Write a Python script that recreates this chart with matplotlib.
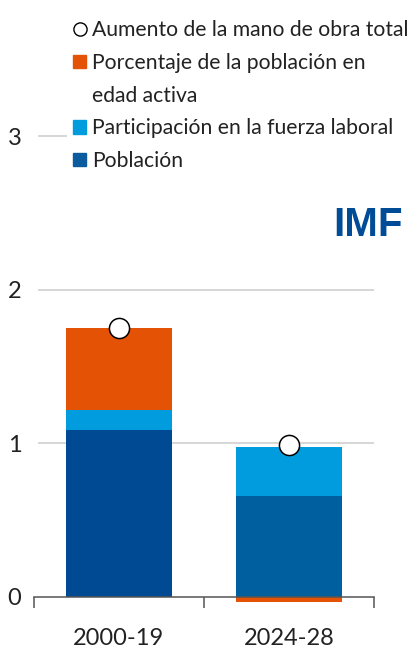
import matplotlib
matplotlib.use("Agg")
import matplotlib.pyplot as plt
from matplotlib.patches import Patch
from matplotlib.lines import Line2D

periods = ["2000-19", "2024-28"]
poblacion = [1.09, 0.66]
participacion = [0.13, 0.32]
porcentaje_edad = [0.53, -0.03]
aumento_total = [1.75, 0.99]

legend_labels = [
    "Aumento de la mano de obra total",
    "Porcentaje de la población en",
    "edad activa",
    "Participación en la fuerza laboral",
    "Población",
]
yticks = [0, 1, 2, 3]

C_POP = ["#004a93", "#005f9e"]
C_LFP = "#009cde"
C_ORANGE = "#e35205"
C_POP_LEG = "#0a5c9e"

TICK_FONT = ["Lato", "DejaVu Sans"]
LEG_FONT = ["Lato", "DejaVu Sans"]

fig = plt.figure(figsize=(4.12, 6.49), dpi=100)
ax = fig.add_axes([34 / 412, 0.0683, 340 / 412, 0.7333])

x = list(range(len(periods)))
w = 0.625
ax.bar(x, poblacion, width=w, color=C_POP, zorder=2)
ax.bar(x, participacion, width=w, bottom=poblacion, color=C_LFP, zorder=2)
pos_bottom = [p + l for p, l in zip(poblacion, participacion)]
orange_bottom = [b if v >= 0 else 0 for b, v in zip(pos_bottom, porcentaje_edad)]
ax.bar(x, porcentaje_edad, width=w, bottom=orange_bottom, color=C_ORANGE, zorder=2)
ax.plot(x, aumento_total, "o", ms=14.5, mfc="white", mec="black", mew=1.1, zorder=4)

ax.set_xlim(-0.5, 1.5)
ax.set_ylim(-0.05, 3.05)
ax.set_yticks(yticks)
ax.set_yticklabels([str(t) for t in yticks])
# gridlines start a little right of the axis start, like the original
for t in yticks[1:]:
    ax.axhline(t, xmin=5 / 340, color="#d6d6d6", lw=1.4, zorder=1)

for s in ["top", "right", "left"]:
    ax.spines[s].set_visible(False)
ax.spines["bottom"].set_position(("data", 0))
ax.spines["bottom"].set_color("#555555")
ax.spines["bottom"].set_linewidth(1.1)
ax.spines["bottom"].set_zorder(3)

ax.set_xticks(x)
ax.set_xticklabels(periods)
ax.set_xticks([-0.5, 0.5, 1.5], minor=True)
ax.tick_params(axis="x", which="major", length=0, pad=22)
ax.tick_params(axis="x", which="minor", length=8, width=1.1, color="#555555", direction="out")
ax.tick_params(axis="y", length=0, pad=9)
for lab in ax.get_xticklabels() + ax.get_yticklabels():
    lab.set_fontfamily(TICK_FONT)
    lab.set_fontsize(17)
    lab.set_color("#222222")

handles = [
    Line2D([], [], marker="o", ls="none", ms=9.5, mfc="white", mec="black", mew=1),
    Patch(color=C_ORANGE),
    Patch(color="none"),
    Patch(color=C_LFP),
    Patch(color=C_POP_LEG),
]
leg = ax.legend(
    handles, legend_labels,
    loc="upper left", bbox_to_anchor=(67 / 412, 1 - 14 / 649),
    bbox_transform=fig.transFigure,
    prop={"family": LEG_FONT, "size": 15.2},
    frameon=True, facecolor="white", edgecolor="none", framealpha=1,
    fancybox=False, borderpad=0.3, borderaxespad=0,
    handlelength=0.6, handleheight=0.6, handletextpad=0.3, labelspacing=0.6,
)
leg.set_zorder(5)
for t in leg.get_texts():
    t.set_color("#222222")

fig.text(403 / 412, 1 - 236 / 649, "IMF", ha="right", va="baseline",
         fontsize=29, fontweight="bold", color="#004c97",
         family=["Liberation Sans", "DejaVu Sans"])

fig.savefig("out.png", dpi=100)
